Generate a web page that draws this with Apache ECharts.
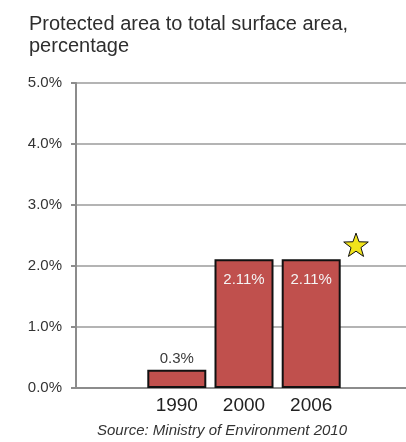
<!DOCTYPE html>
<html>
<head>
<meta charset="utf-8">
<script src="https://cdn.jsdelivr.net/npm/echarts@6/dist/echarts.min.js"></script>
<style>
  html, body { margin: 0; padding: 0; background: #ffffff; }
  #chart { width: 406px; height: 442px; }
</style>
</head>
<body>
<div id="chart"></div>
<script>
// Protected area as a share of total surface area
const years = ['1990', '2000', '2006'];
const protectedShare = [0.3, 2.11, 2.11];
const yTicks = [0, 1, 2, 3, 4, 5];

// one empty slot before and after the years keeps the bars off the axis
const categories = [''].concat(years, ['']);
const barData = [null].concat(protectedShare.map(function (v) {
  const inside = v > 1;
  return {
    value: v,
    label: {
      position: inside ? 'insideTop' : 'top',
      distance: inside ? 13 : 3,
      color: inside ? '#f4f4f4' : '#3a3a3a'
    }
  };
}), [null]);

const FONT = '"Liberation Sans", Arial, sans-serif';

// five-pointed star outline for the highlight marker
function starPoints(cx, cy, R, r) {
  const pts = [];
  for (let k = 0; k < 10; k++) {
    const rad = k % 2 === 0 ? R : r;
    const a = -Math.PI / 2 + k * Math.PI / 5;
    pts.push([cx + rad * Math.cos(a), cy + rad * Math.sin(a)]);
  }
  return pts;
}

const chart = echarts.init(document.getElementById('chart'), null, { renderer: 'canvas' });
chart.setOption({
  animation: false,
  backgroundColor: '#ffffff',
  title: {
    text: 'Protected area to total surface area,\npercentage',
    left: 29,
    top: 13,
    padding: 0,
    textStyle: {
      fontFamily: FONT,
      fontSize: 20,
      lineHeight: 22,
      fontWeight: 'normal',
      color: '#2e2e2e'
    }
  },
  // the plot area runs past the right edge of the canvas
  grid: { left: 76, top: 83, width: 336, height: 305, containLabel: false, outerBoundsMode: 'none' },
  xAxis: {
    type: 'category',
    data: categories,
    boundaryGap: true,
    axisLine: { show: true, lineStyle: { color: '#8c8c8c', width: 2 } },
    axisTick: { show: false },
    axisLabel: {
      margin: 8,
      fontFamily: FONT,
      fontSize: 19,
      color: '#222222',
      interval: 0
    },
    splitLine: { show: false }
  },
  yAxis: {
    type: 'value',
    min: yTicks[0],
    max: yTicks[yTicks.length - 1],
    interval: 1,
    axisLine: { show: true, lineStyle: { color: '#8c8c8c', width: 2 } },
    axisTick: { show: true, length: 5, lineStyle: { color: '#8c8c8c', width: 2 } },
    axisLabel: {
      margin: 14,
      fontFamily: FONT,
      fontSize: 15,
      color: '#333333',
      formatter: function (v) { return v.toFixed(1) + '%'; }
    },
    splitLine: { show: true, lineStyle: { color: '#b4b4b4', width: 2 } }
  },
  series: [{
    type: 'bar',
    data: barData,
    barWidth: 59,
    itemStyle: { color: '#c0504d', borderColor: '#111111', borderWidth: 2 },
    label: {
      show: true,
      fontFamily: FONT,
      fontSize: 15,
      formatter: function (p) { return p.value + '%'; }
    }
  }],
  graphic: [
    {
      type: 'polygon',
      shape: { points: starPoints(356, 246, 12.9, 5.2) },
      style: { fill: '#f1e41c', stroke: '#111111', lineWidth: 1 },
      z: 10
    },
    {
      type: 'text',
      x: 222,
      y: 423,
      style: {
        text: 'Source: Ministry of Environment 2010',
        fontFamily: FONT,
        fontSize: 15,
        fontStyle: 'italic',
        fill: '#333333',
        textAlign: 'center',
        textVerticalAlign: 'top'
      }
    }
  ]
});
</script>
</body>
</html>
